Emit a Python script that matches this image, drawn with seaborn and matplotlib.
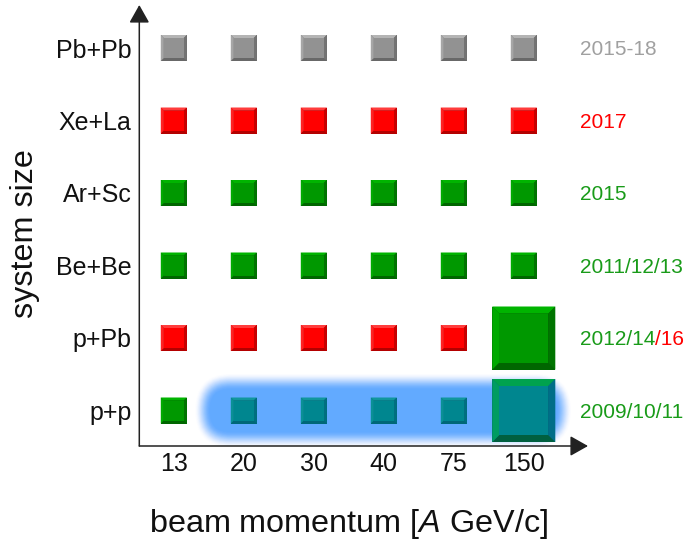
#Importing packages
import numpy as np
import pandas as pd
import matplotlib
matplotlib.use('Agg')
import matplotlib.pyplot as plt
import matplotlib.transforms as mtransforms
from matplotlib.patches import Polygon, FancyBboxPatch
import seaborn as sns

#chart data
momenta = ['13', '20', '30', '40', '75', '150']
systems = ['p+p', 'p+Pb', 'Be+Be', 'Ar+Sc', 'Xe+La', 'Pb+Pb']
#status of each system/momentum point (rows follow systems, columns follow momenta)
status_pp = ['green', 'teal', 'teal', 'teal', 'teal', 'teal']
status_ppb = ['red', 'red', 'red', 'red', 'red', 'green']
status_bebe = ['green', 'green', 'green', 'green', 'green', 'green']
status_arsc = ['green', 'green', 'green', 'green', 'green', 'green']
status_xela = ['red', 'red', 'red', 'red', 'red', 'red']
status_pbpb = ['gray', 'gray', 'gray', 'gray', 'gray', 'gray']
#large squares (high statistics)
big_pp = [0, 0, 0, 0, 0, 1]
big_ppb = [0, 0, 0, 0, 0, 1]
#data taking years per system, split in coloured pieces
year_text = [['2009/10/11'], ['2012/14', '/16'], ['2011/12/13'], ['2015'], ['2017'], ['2015-18']]
year_color = [['green'], ['green', 'red'], ['green'], ['green'], ['red'], ['gray']]
#momenta covered by the blue highlight band on p+p
band_from, band_to = '20', '150'

#building a long table
rows = []
all_status = [status_pp, status_ppb, status_bebe, status_arsc, status_xela, status_pbpb]
all_big = [big_pp, big_ppb] + [[0] * 6] * 4
for j, sysname in enumerate(systems):
    for i, mom in enumerate(momenta):
        rows.append({'system': sysname, 'momentum': mom, 'xi': i, 'yi': j,
                     'status': all_status[j][i], 'big': all_big[j][i]})
df = pd.DataFrame(rows)
df['side_px'] = np.where(df['big'] == 1, 63, 26)

#colours
face = {'gray': '#929292', 'red': '#ff0000', 'green': '#009800', 'teal': '#00868f'}
light = {'gray': '#b4b4b4', 'red': '#ff3c3c', 'green': '#00b400', 'teal': '#11979c'}
left_c = {'gray': '#a6a6a6', 'red': '#ff2222', 'green': '#00a900', 'teal': '#0a9096'}
right_c = {'gray': '#737373', 'red': '#c80000', 'green': '#007400', 'teal': '#006f80'}
bottom_c = {'gray': '#686868', 'red': '#b40000', 'green': '#006600', 'teal': '#006878'}
text_c = {'gray': '#a0a0a0', 'red': '#ff0000', 'green': '#199b19'}
#the big p+p square sits half outside the glow, so its bevels are greener
big_teal = {'top': '#00a24e', 'left': '#009c62', 'right': '#006e88', 'bottom': '#006040'}

sns.set_style('white')
plt.rcParams['font.family'] = ['Liberation Sans', 'DejaVu Sans']
plt.rcParams['mathtext.fontset'] = 'custom'
plt.rcParams['mathtext.rm'] = 'Liberation Sans'
plt.rcParams['mathtext.it'] = 'Liberation Sans:italic'

W, H = 685, 545
fig = plt.figure(figsize=(W / 100, H / 100), dpi=100)
#axes placed so that the arrows end where the reference has them
x0_px, y0_px, xr_px, yt_px = 139.3, 446, 588, 5
ax = fig.add_axes([x0_px / W, 1 - y0_px / H, (xr_px - x0_px) / W, (y0_px - yt_px) / H])
col0, dcol = 173.8, 70.0
row0, drow = 410.5, 72.5
ax.set_xlim((x0_px - col0) / dcol, (xr_px - col0) / dcol)
ax.set_ylim((row0 - y0_px) / drow, (row0 - yt_px) / drow)
for s in ax.spines.values():
    s.set_visible(False)

#blue glow band behind p+p row (stacked layers, smoothstep opacity ramp)
bx0 = momenta.index(band_from) - 0.46
bx1 = momenta.index(band_to) + 0.44
by = systems.index('p+p')
hh = 0.27
n_layers = 30
prev = 0.0
for k in range(1, n_layers + 1):
    t = k / n_layers
    target = t * t * (3 - 2 * t)
    a = (target - prev) / (1 - prev)
    prev = target
    g = 0.24 * (1 - (k - 1) / n_layers)
    ax.add_patch(FancyBboxPatch((bx0 - g, by - hh - g), (bx1 - bx0) + 2 * g, 2 * (hh + g),
                                boxstyle=f'round,pad=0,rounding_size={hh + g}',
                                fc='#62aaff', ec='none', alpha=min(a, 1.0), zorder=1))

#base squares (bottom bevel colour) through seaborn
sizes = {26: (26 * 0.72) ** 2, 63: (63 * 0.72) ** 2}
sns.scatterplot(data=df, x='xi', y='yi', hue='status', palette=bottom_c, size='side_px',
                sizes=sizes, marker='s', linewidth=0, legend=False, ax=ax, zorder=3)

#bevels on top of each square, drawn in pixel units around the data point
for _, r in df.iterrows():
    s = r['side_px'] / 100.0
    b = (7 if r['big'] else 3) / 100.0
    h = s / 2
    tr = fig.dpi_scale_trans + mtransforms.ScaledTranslation(r['xi'], r['yi'], ax.transData)
    st = r['status']
    cols = {'top': light[st], 'left': left_c[st], 'right': right_c[st], 'bottom': bottom_c[st]}
    if st == 'teal' and r['big']:
        cols = big_teal
    ax.add_patch(Polygon([(-h, -h), (h, -h), (h - b, -h + b), (-h + b, -h + b)], closed=True,
                         fc=cols['bottom'], ec='none', transform=tr, zorder=4))
    ax.add_patch(Polygon([(-h, h), (h, h), (h - b, h - b), (-h + b, h - b)], closed=True,
                         fc=cols['top'], ec='none', transform=tr, zorder=4))
    ax.add_patch(Polygon([(-h, -h), (-h, h), (-h + b, h - b), (-h + b, -h + b)], closed=True,
                         fc=cols['left'], ec='none', transform=tr, zorder=4))
    ax.add_patch(Polygon([(h, -h), (h, h), (h - b, h - b), (h - b, -h + b)], closed=True,
                         fc=cols['right'], ec='none', transform=tr, zorder=4))
    ax.add_patch(Polygon([(-h + b, -h + b), (h - b, -h + b), (h - b, h - b), (-h + b, h - b)],
                         closed=True, fc=face[st], ec='none', transform=tr, zorder=5))

#year labels on the right
xyear = (580 - col0) / dcol
for j, (parts, cols) in enumerate(zip(year_text, year_color)):
    t = ax.text(xyear, j - 7.3 / drow, parts[0], color=text_c[cols[0]], fontsize=15,
                ha='left', va='baseline', zorder=6)
    for p, c in zip(parts[1:], cols[1:]):
        t = ax.annotate(p, xy=(1, 0), xycoords=t, color=text_c[c], fontsize=15,
                        ha='left', va='bottom', zorder=6)

#ticks
ax.set_xticks(range(len(momenta)), momenta)
ax.set_yticks(range(len(systems)), systems)
ax.tick_params(axis='x', length=0, pad=4.5, labelsize=18, labelcolor='#111111')
ax.tick_params(axis='y', length=0, pad=5.5, labelsize=18, labelcolor='#111111')
ax.set_xlabel('')
ax.set_ylabel('')

#axis arrows
arrow = dict(arrowstyle='-|>,head_length=0.55,head_width=0.31', color='#222222', lw=1.1,
             shrinkA=0, shrinkB=0, mutation_scale=20)
ax.annotate('', xy=(1, 0), xytext=(0, 0), xycoords='axes fraction', arrowprops=arrow)
ax.annotate('', xy=(0, 1), xytext=(0, 0), xycoords='axes fraction', arrowprops=arrow)

#axis titles
fig.text(349 / W, 1 - 531.7 / H, 'beam momentum [$\\it{A}$ GeV/c]', fontsize=23.3,
         ha='center', va='baseline', color='#111111')
fig.text(33 / W, 1 - 234 / H, 'system size', fontsize=23.3, rotation=90,
         rotation_mode='anchor', ha='center', va='baseline', color='#111111')

plt.savefig('out.png', dpi=100)
